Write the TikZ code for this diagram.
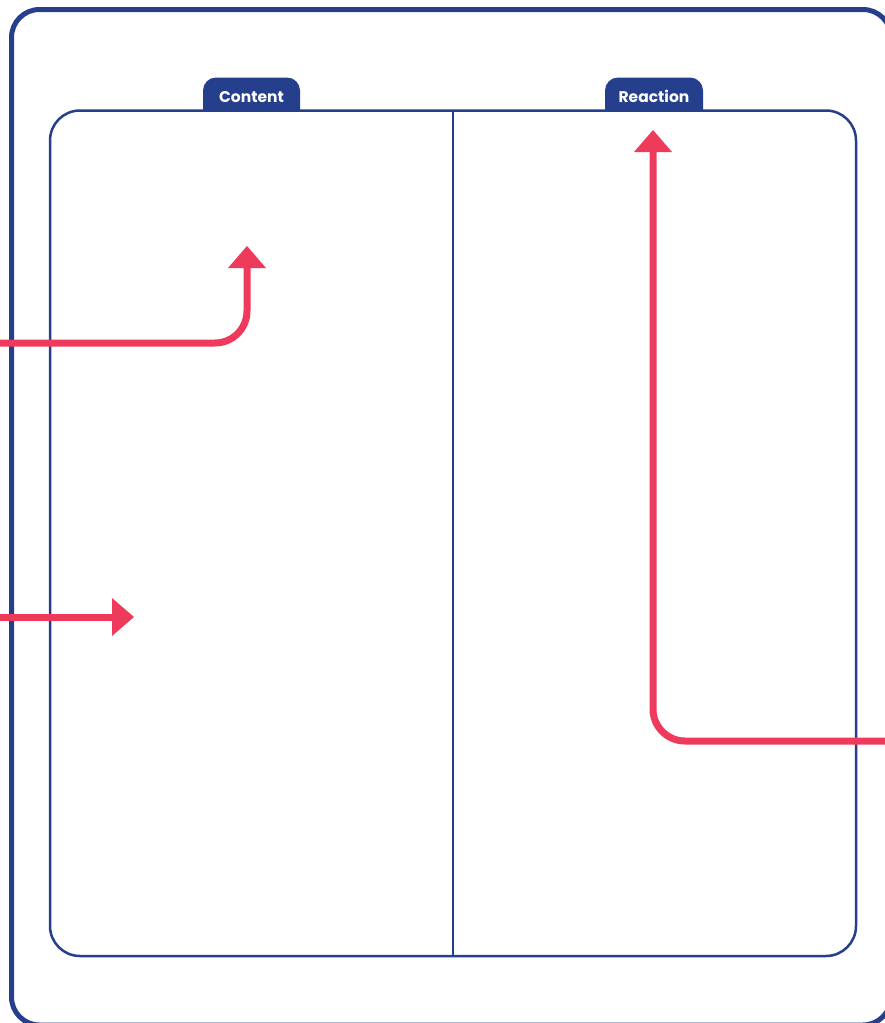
\documentclass[tikz,border=0pt]{standalone}
\usepackage{fontspec}
\setmainfont{Poppins}
\usetikzlibrary{arrows.meta}
\definecolor{navy}{HTML}{263F8C}
\definecolor{coral}{HTML}{EF3B5B}
\tikzset{
  frame/.style={draw=navy, line width=5pt, rounded corners=28pt},
  panel/.style={draw=navy, line width=2.5pt, rounded corners=30pt},
  divider/.style={draw=navy, line width=2.5pt},
  tab/.style={fill=navy},
  tablabel/.style={text=white, font=\fontsize{15.5pt}{17pt}\selectfont\bfseries, inner sep=0pt, anchor=base},
  flow/.style={draw=coral, line width=7pt, rounded corners=32pt,
    -{Triangle[width=38pt, length=22pt, line width=0pt]}},
}
\begin{document}
\begin{tikzpicture}[x=1pt, y=-1pt]
\useasboundingbox (0,0) rectangle (885,1023);
% outer frame
\draw[frame] (11.5,9.5) rectangle (891,1025);
% tabs
\fill[tab] (203,111) {[rounded corners=13pt] -- (203,77.5) -- (300,77.5)} -- (300,111) -- cycle;
\fill[tab] (605,111) {[rounded corners=13pt] -- (605,77.5) -- (703,77.5)} -- (703,111) -- cycle;
\node[tablabel] (content) at (251.5,102) {Content};
\node[tablabel] (reaction) at (654,102) {Reaction};
% inner panel
\draw[panel] (50,110.5) rectangle (856,956);
\coordinate (dtop) at (453,110.5);
\coordinate (dbot) at (453,956);
\draw[divider] (dtop) -- (dbot);
% arrows
\coordinate (a1s) at (-5,343);
\coordinate (a1e) at (247,246);
\draw[flow] (a1s) -| (a1e);
\coordinate (a2s) at (-5,617);
\coordinate (a2e) at (134,617);
\draw[flow] (a2s) -- (a2e);
\coordinate (a3s) at (890,741);
\coordinate (a3e) at (653,130);
\draw[flow] (a3s) -| (a3e);
\end{tikzpicture}
\end{document}
